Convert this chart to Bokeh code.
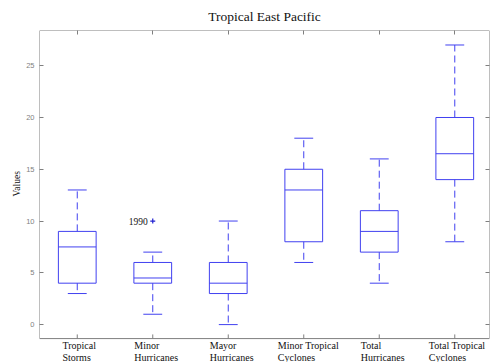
import numpy as np
from bokeh.plotting import figure
from bokeh.models import Range1d, FixedTicker, LinearAxis, CustomJSTickFormatter, Title
from bokeh.core.properties import value
from bokeh.embed import file_html
from bokeh.resources import INLINE

categories = ["Tropical\nStorms", "Minor\nHurricanes", "Mayor\nHurricanes",
              "Minor Tropical\nCyclones", "Total\nHurricanes", "Total Tropical\nCyclones"]
lower_whisker = [3, 1, 0, 6, 4, 8]
q1 = [4, 4, 3, 8, 7, 14]
median = [7.5, 4.5, 4, 13, 9, 16.5]
q3 = [9, 6, 6, 15, 11, 20]
upper_whisker = [13, 7, 10, 18, 16, 27]
outlier_cat = [2]
outlier_val = [10]
outlier_label = ["1990"]
y_ticks = [0, 5, 10, 15, 20, 25]

BLUE = "#4040f0"
GRAY = "#7f7f7f"
SERIF = "Liberation Serif"

# axes box (data limits of the drawn frame) and the extra strip below it that holds the labels
X_LO, X_HI = 0.5, 6.46
Y_LO, Y_HI = -1.35, 28.4
Y_CANVAS_LO = -3.66

pos = np.arange(1, len(categories) + 1)
box_w = 0.5
cap_w = 0.25

p = figure(width=491, height=362, output_backend="svg", toolbar_location=None,
           x_range=Range1d(X_LO, X_HI), y_range=Range1d(Y_CANVAS_LO, Y_HI),
           min_border_left=39, min_border_right=2, min_border_top=29, min_border_bottom=0)
p.background_fill_color = "white"
p.border_fill_color = "white"
p.xgrid.visible = False
p.ygrid.visible = False
p.outline_line_color = None
p.xaxis.visible = False

p.title.text = "Tropical East Pacific"
p.title.align = "center"
p.title.text_font = SERIF
p.title.text_font_size = "13.5px"
p.title.text_font_style = "normal"
p.title.text_color = "#111111"
p.title.standoff = 13
p.title.offset = 0

# frame box
p.quad(left=[X_LO], right=[X_HI], bottom=[Y_LO], top=[Y_HI], fill_color=None, line_color=GRAY, line_width=1)
# bottom ticks (inward)
p.segment(x0=pos, y0=[Y_LO] * len(pos), x1=pos, y1=[Y_LO + 0.4] * len(pos), line_color=GRAY, line_width=1)

# whiskers
p.segment(x0=pos, y0=q3, x1=pos, y1=upper_whisker, line_color=BLUE, line_dash="7 4", line_width=1)
p.segment(x0=pos, y0=q1, x1=pos, y1=lower_whisker, line_color=BLUE, line_dash="7 4", line_width=1)
# caps
p.segment(x0=pos - cap_w / 2, y0=upper_whisker, x1=pos + cap_w / 2, y1=upper_whisker, line_color=BLUE, line_width=1)
p.segment(x0=pos - cap_w / 2, y0=lower_whisker, x1=pos + cap_w / 2, y1=lower_whisker, line_color=BLUE, line_width=1)
# boxes
p.vbar(x=pos, width=box_w, bottom=q1, top=q3, fill_color=None, line_color=BLUE, line_width=1)
# medians
p.segment(x0=pos - box_w / 2, y0=median, x1=pos + box_w / 2, y1=median, line_color=BLUE, line_width=1)
# outliers
p.scatter(x=outlier_cat, y=outlier_val, marker="cross", size=5, line_color="#2020d0", line_width=1.2)
p.text(x=outlier_cat, y=outlier_val, text=outlier_label, x_offset=-5, text_align="right",
       text_baseline="middle", text_font=value(SERIF), text_font_size="9.5px", text_color="#111111")

# category labels below the frame
longest = [max(len(s) for s in c.split("\n")) for c in categories]
p.text(x=pos, y=[Y_LO] * len(pos), text=categories, x_offset=[-1.85 * n for n in longest], y_offset=1,
       text_align="left", text_baseline="top", text_font=value(SERIF), text_font_size="10px",
       text_color="#111111", text_line_height=1.15)

# left axis (ticks and labels only)
ya = p.yaxis[0]
ya.ticker = FixedTicker(ticks=y_ticks)
ya.major_label_text_font = "Liberation Sans"
ya.major_label_text_font_size = "7.5px"
ya.major_label_text_color = GRAY
ya.major_label_standoff = 5
ya.major_tick_in = 4
ya.major_tick_out = 0
ya.minor_tick_line_color = None
ya.axis_line_color = None
ya.major_tick_line_color = GRAY

ylab = Title(text="Values", align="left", text_font=SERIF, text_font_size="9.5px",
             text_font_style="normal", text_color="#111111", offset=166, standoff=3)
p.add_layout(ylab, "left")

blank = CustomJSTickFormatter(code="return ''")
top = LinearAxis(ticker=FixedTicker(ticks=list(pos)), formatter=blank,
                 major_tick_in=4, major_tick_out=0, minor_tick_line_color=None,
                 axis_line_color=None, major_tick_line_color=GRAY,
                 major_label_text_font_size="0px", major_label_standoff=0)
right = LinearAxis(ticker=FixedTicker(ticks=y_ticks), formatter=blank,
                   major_tick_in=4, major_tick_out=0, minor_tick_line_color=None,
                   axis_line_color=None, major_tick_line_color=GRAY,
                   major_label_text_font_size="0px", major_label_standoff=0)
p.add_layout(top, "above")
p.add_layout(right, "right")

open("out.html", "w").write(file_html(p, INLINE))
